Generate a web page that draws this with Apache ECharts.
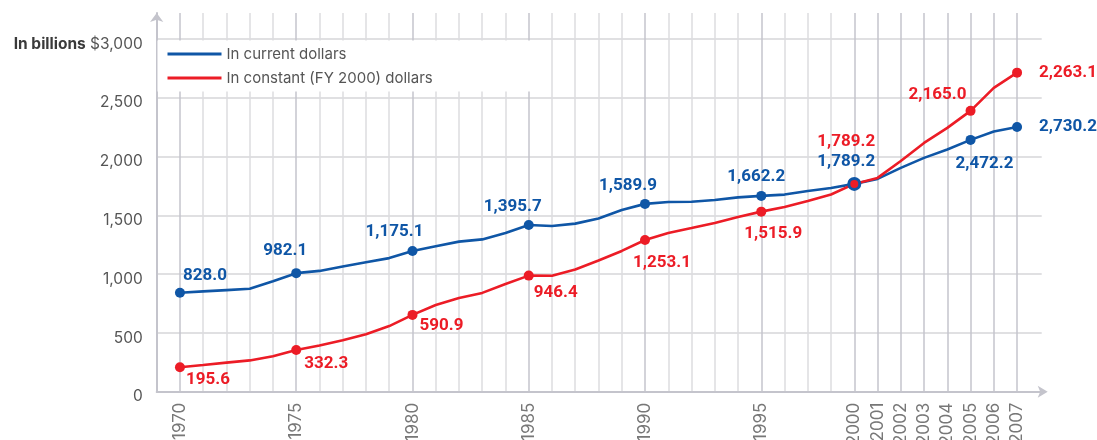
<!DOCTYPE html>
<html>
<head>
<meta charset="utf-8">
<script src="https://cdn.jsdelivr.net/npm/echarts@6/dist/echarts.min.js"></script>
<style>
  html, body { margin: 0; padding: 0; background: #fff; }
  #chart { width: 1097px; height: 440px; }
</style>
</head>
<body>
<div id="chart"></div>
<script>
// one slot per plotted year; the artwork skips a year between 1995 and 2000
const tickLabels = ['1970', '', '', '', '', '1975', '', '', '', '', '1980', '', '', '', '',
  '1985', '', '', '', '', '1990', '', '', '', '', '1995', '', '', '',
  '2000', '2001', '2002', '2003', '2004', '2005', '2006', '2007'];

// values, in billions of dollars
const currentDollars = [842, 853, 864, 875, 939, 1008, 1027, 1064, 1100, 1136,
  1197, 1237, 1276, 1295, 1350, 1418, 1409, 1429, 1473, 1545,
  1597, 1613, 1615, 1630, 1652, 1665, 1676, 1707, 1732,
  1767, 1809, 1903, 1988, 2060, 2141, 2213, 2251];
const constantDollars = [208, 227, 247, 266, 302, 355, 393, 437, 489, 558,
  653, 737, 797, 840, 916, 987, 986, 1039, 1116, 1197,
  1290, 1350, 1392, 1435, 1486, 1531, 1571, 1622, 1677,
  1767, 1818, 1962, 2115, 2243, 2388, 2583, 2713];

// highlighted points and their printed labels
const markerSlots = [0, 5, 10, 15, 20, 25, 29, 34, 36];
const currentLabels = ['828.0', '982.1', '1,175.1', '1,395.7', '1,589.9', '1,662.2', '1,789.2', '2,472.2', '2,730.2'];
const constantLabels = ['195.6', '332.3', '590.9', '946.4', '1,253.1', '1,515.9', '1,789.2', '2,165.0', '2,263.1'];

const BLUE = '#0f56a6';
const RED = '#ec1c26';

// label placement (px from the dot)
const currentOffsets = [[25, -17], [-11, -22], [-18, -19], [-16, -18], [-17, -18], [-5, -19], [-8, -22], [14, 24], [22, 0]];
const constantOffsets = [[28, 13], [30, 14], [29, 11], [27, 17], [17, 23], [12, 22], [-8, -42], [-33, -16], [22, 0]];
const currentSizes = [10, 10, 10, 10, 10, 10, 14, 10, 10];
const constantSizes = [10, 10, 10, 10, 10, 10, 8, 10, 10];

function buildData(values, labels, offsets, sizes) {
  return values.map((v, i) => {
    const k = markerSlots.indexOf(i);
    if (k < 0) return { value: [i, v], symbol: 'none' };
    return {
      value: [i, v],
      symbol: 'circle',
      symbolSize: sizes[k],
      label: {
        show: true,
        formatter: labels[k],
        position: 'inside',
        offset: offsets[k],
        align: k === markerSlots.length - 1 ? 'left' : 'center',
        verticalAlign: 'middle'
      }
    };
  });
}

// vertical grid: darker line on labelled years
const xSplitColors = ['rgba(0,0,0,0)'];
tickLabels.forEach(t => xSplitColors.push(t ? '#c5c5cc' : '#dcdcdf'));
xSplitColors.push('rgba(0,0,0,0)', 'rgba(0,0,0,0)');

const chart = echarts.init(document.getElementById('chart'));

const labelFont = { fontFamily: 'Roboto', fontWeight: 'bold', fontSize: 17 };

chart.setOption({
  animation: false,
  grid: { left: 156.7, right: 55.3, top: 13, bottom: 48.3, containLabel: false, outerBoundsMode: 'none' },
  legend: {
    orient: 'vertical',
    left: 157.5,
    top: 40.5,
    padding: [6, 100, 6, 10],
    backgroundColor: '#fff',
    icon: 'rect',
    itemWidth: 54,
    itemHeight: 3,
    itemGap: 9,
    selectedMode: false,
    textStyle: { color: '#555', fontSize: 15, fontFamily: 'Inter' },
    data: ['In current dollars', 'In constant (FY 2000) dollars']
  },
  xAxis: {
    type: 'value',
    min: -1,
    max: 37.06,
    interval: 1,
    axisLine: {
      show: true,
      onZero: false,
      symbol: ['none', 'arrow'],
      symbolSize: [9, 10],
      symbolOffset: [0, 6],
      lineStyle: { color: '#c4c4cc', width: 2 }
    },
    axisTick: { show: false },
    axisLabel: {
      rotate: 90,
      margin: 11,
      color: '#777',
      fontSize: 17,
      fontFamily: 'Inter',
      formatter: v => tickLabels[v] || ''
    },
    splitLine: { show: true, lineStyle: { color: xSplitColors, width: 1.5 } }
  },
  yAxis: {
    type: 'value',
    min: 0,
    max: 3220,
    interval: 500,
    axisLine: {
      show: true,
      onZero: false,
      symbol: ['none', 'arrow'],
      symbolSize: [10, 9],
      lineStyle: { color: '#c4c4cc', width: 2 }
    },
    axisTick: { show: false },
    axisLabel: {
      margin: 14,
      color: '#555',
      fontSize: 15.5,
      fontFamily: 'Inter',
      padding: [10, 0, 0, 0],
      formatter: v => {
        if (v % 500 !== 0) return '';
        const s = v.toLocaleString('en-US');
        return v === 3000 ? '{b|In billions} $' + s : s;
      },
      rich: { b: { fontWeight: 'bold', color: '#3a3a3a', fontSize: 15.5, fontFamily: 'Inter' } }
    },
    splitLine: {
      show: true,
      showMaxLine: false,
      lineStyle: { color: ['#d6d6d9', '#d6d6d9', '#d6d6d9', '#d6d6d9', '#d6d6d9', '#d6d6d9', '#d6d6d9', 'rgba(0,0,0,0)'], width: 1.5 }
    }
  },
  series: [
    {
      name: 'In current dollars',
      type: 'line',
      color: BLUE,
      lineStyle: { width: 2.6 },
      emphasis: { disabled: true },
      label: Object.assign({ color: BLUE }, labelFont),
      data: buildData(currentDollars, currentLabels, currentOffsets, currentSizes)
    },
    {
      name: 'In constant (FY 2000) dollars',
      type: 'line',
      color: RED,
      lineStyle: { width: 2.6 },
      emphasis: { disabled: true },
      label: Object.assign({ color: RED }, labelFont),
      data: buildData(constantDollars, constantLabels, constantOffsets, constantSizes)
    }
  ]
});
</script>
</body>
</html>
